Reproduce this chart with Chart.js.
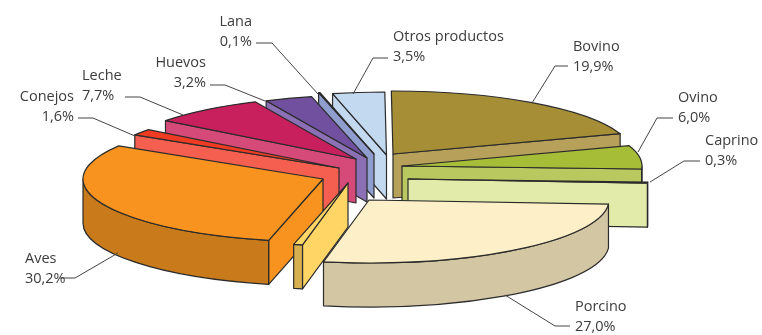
<!DOCTYPE html>
<html>
<head>
<meta charset="utf-8">
<style>
  html, body { margin: 0; padding: 0; background: #fff; }
  #wrap { width: 762px; height: 335px; }
</style>
<script src="https://cdn.jsdelivr.net/npm/chart.js@4/dist/chart.umd.min.js"></script>
</head>
<body>
<div id="wrap"><canvas id="pie" width="762" height="335"></canvas></div>
<script>
// clockwise from 12 o'clock; the thin yellow slice has no label in the original
const categories = ['Bovino', 'Ovino', 'Caprino', 'Porcino', '', 'Aves', 'Conejos', 'Leche', 'Huevos', 'Lana', 'Otros productos'];
const shares = [19.9, 6.0, 0.3, 27.0, 0.6, 30.2, 1.6, 7.7, 3.2, 0.1, 3.5];
const shareLabels = ['19,9%', '6,0%', '0,3%', '27,0%', '', '30,2%', '1,6%', '7,7%', '3,2%', '0,1%', '3,5%'];

const topColors = ['#a68e36', '#a6bd38', '#e3ebaa', '#fdf0c8', '#ffd566', '#f7931e', '#ef3b22', '#c8205c', '#70509f', '#6f7fbf', '#c3d9f0'];
const wallColors = ['#b7a15a', '#b9c95f', '#e3ebaa', '#d3c6a3', '#ffd566', '#f7931e', '#f45f4f', '#d64a7a', '#8b70b5', '#8f9dcf', '#c3d9f0'];
const rimColors = ['#b7a15a', '#23231c', '#e3ebaa', '#d3c6a3', '#d9b04f', '#c97a1b', '#f45f4f', '#d64a7a', '#8b70b5', '#8f9dcf', '#c3d9f0'];

// how far each slice was pulled out of the pie, in pixels
const explode = [[12, -13.5], [21, -1.5], [27, 11.5], [-12, 32.5], [-33, 15.5], [-58, 11.5], [-42, 0.5], [-25, -8.5], [-14, -9.5], [-7, -13.5], [5.5, -12.5]];
const drawOrder = [0, 1, 2, 10, 9, 8, 7, 6, 5, 4, 3];

const tilt = 0.2625;
const depth = 44;

// label anchor x, first line y, text align, leader line
const callouts = [
    { x: 573, y: 47, align: 'left', line: [[532, 103], [555, 66], [568, 66]] },
    { x: 678, y: 98, align: 'left', line: [[638, 152], [657, 118], [673, 118]] },
    { x: 705, y: 141, align: 'left', line: [[650, 182], [684, 161], [700, 161]] },
    { x: 575, y: 307, align: 'left', line: [[505, 295], [555, 326], [570, 326]] },
    null,
    { x: 25, y: 259, align: 'left', line: [[118, 253], [75, 278], [60, 278]] },
    { x: 74, y: 97, align: 'right', line: [[135, 136], [93, 118], [78, 118]] },
    { x: 82, y: 76, align: 'left', line: [[183, 115], [140, 97], [125, 97]] },
    { x: 206, y: 63, align: 'right', line: [[265, 101], [225, 85], [210, 85]] },
    { x: 252, y: 22, align: 'right', line: [[318, 94], [272, 43], [256, 43]] },
    { x: 393, y: 37, align: 'left', line: [[353, 94], [373, 58], [388, 58]] }
];

const extrudedPie = {
    id: 'extrudedPie',
    beforeDatasetDraw(chart, args) {
        const ctx = chart.ctx;
        const arcs = args.meta.data;

        drawOrder.forEach(i => {
            const el = arcs[i];
            const cx = el.x + explode[i][0];
            const cy = el.y + explode[i][1];
            const r = el.outerRadius;
            const pointAt = a => [cx + r * Math.cos(a), cy + r * tilt * Math.sin(a)];

            ctx.save();
            ctx.lineJoin = 'round';
            ctx.lineWidth = 1.2;
            ctx.strokeStyle = '#2b2b2b';

            // radial walls that face the viewer
            const walls = [];
            if (Math.cos(el.startAngle) < -0.02) walls.push(el.startAngle);
            if (Math.cos(el.endAngle) > 0.02) walls.push(el.endAngle);
            walls.forEach(angle => {
                const p = pointAt(angle);
                ctx.beginPath();
                ctx.moveTo(cx, cy);
                ctx.lineTo(p[0], p[1]);
                ctx.lineTo(p[0], p[1] + depth);
                ctx.lineTo(cx, cy + depth);
                ctx.closePath();
                ctx.fillStyle = wallColors[i];
                ctx.fill();
                ctx.stroke();
            });

            // outer rim, only the part on the near side
            const from = Math.max(el.startAngle, 0);
            const to = Math.min(el.endAngle, Math.PI);
            if (to > from) {
                const a = pointAt(from);
                const b = pointAt(to);
                ctx.beginPath();
                ctx.ellipse(cx, cy, r, r * tilt, 0, from, to);
                ctx.lineTo(b[0], b[1] + depth);
                ctx.ellipse(cx, cy + depth, r, r * tilt, 0, to, from, true);
                ctx.lineTo(a[0], a[1]);
                ctx.closePath();
                ctx.fillStyle = rimColors[i];
                ctx.fill();
                ctx.stroke();
            }

            // top face is the library's own arc, squashed
            ctx.save();
            ctx.translate(cx, cy);
            ctx.scale(1, tilt);
            ctx.translate(-el.x, -el.y);
            el.draw(ctx);
            ctx.restore();

            const s = pointAt(el.startAngle);
            ctx.beginPath();
            ctx.moveTo(cx, cy);
            ctx.lineTo(s[0], s[1]);
            ctx.ellipse(cx, cy, r, r * tilt, 0, el.startAngle, el.endAngle);
            ctx.closePath();
            ctx.stroke();
            ctx.restore();
        });
        return false;
    },
    afterDatasetsDraw(chart) {
        const ctx = chart.ctx;
        ctx.save();
        ctx.font = '14.5px "Open Sans"';
        ctx.textBaseline = 'middle';
        ctx.fillStyle = '#3c3c3c';
        ctx.strokeStyle = '#444';
        ctx.lineWidth = 1;
        callouts.forEach((c, i) => {
            if (!c) return;
            ctx.textAlign = c.align;
            ctx.fillText(categories[i], c.x, c.y);
            ctx.fillText(shareLabels[i], c.x, c.y + 20);
            ctx.beginPath();
            c.line.forEach((p, k) => k ? ctx.lineTo(p[0], p[1]) : ctx.moveTo(p[0], p[1]));
            ctx.stroke();
        });
        ctx.restore();
    }
};

new Chart(document.getElementById('pie'), {
    type: 'pie',
    data: {
        labels: categories,
        datasets: [{
            data: shares,
            backgroundColor: topColors,
            borderWidth: 0,
            radius: 240
        }]
    },
    options: {
        responsive: false,
        animation: false,
        rotation: -0.4,
        layout: { padding: 0 },
        plugins: {
            legend: { display: false },
            tooltip: { enabled: false }
        }
    },
    plugins: [extrudedPie]
});
</script>
</body>
</html>
